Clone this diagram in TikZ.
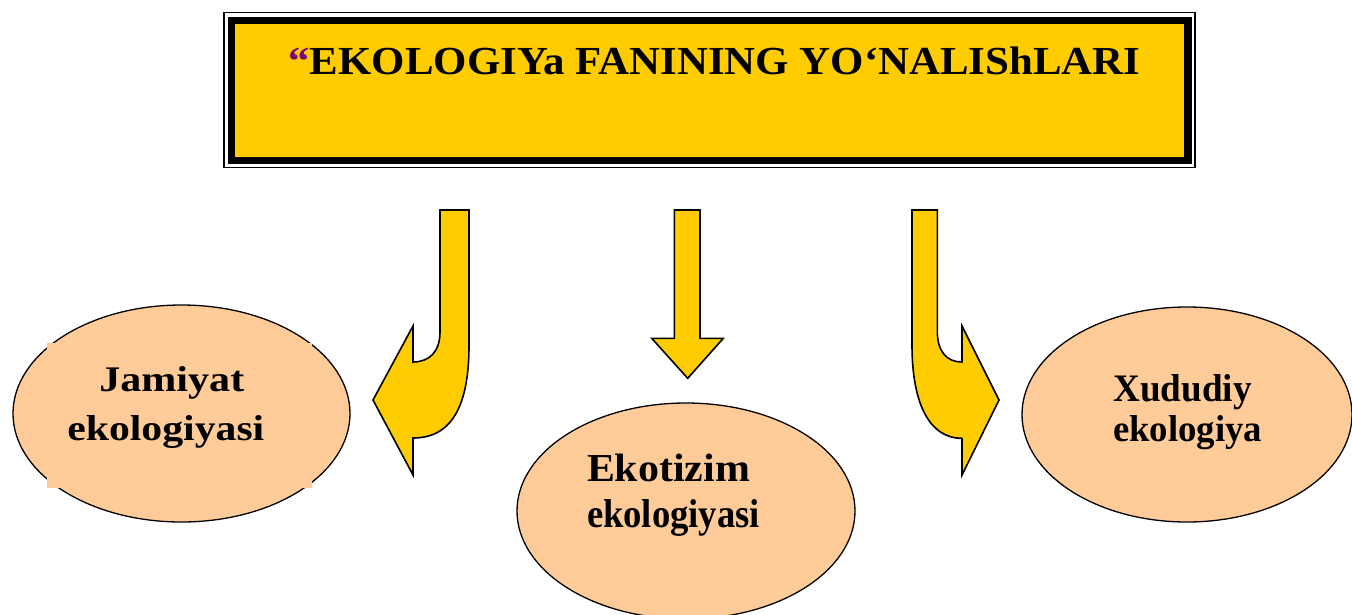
\documentclass[tikz,border=0pt]{standalone}
\usepackage{fontspec}
\setmainfont{Liberation Serif}
\usetikzlibrary{shapes.geometric}
\definecolor{gold}{HTML}{FFCC00}
\definecolor{peach}{HTML}{FFCC99}
\definecolor{plum}{HTML}{800080}
\begin{document}
\begin{tikzpicture}[x=1pt,y=-1pt,
  blockarrow/.style={draw=black,line width=1.6pt,fill=gold,line join=miter},
  topic/.style={ellipse,draw=black,line width=1.3pt,fill=peach,inner sep=0pt,outer sep=0pt},
  txt/.style={anchor=base west,inner sep=0pt,outer sep=0pt,font=\bfseries}]
\useasboundingbox (0,0) rectangle (1352,614);
\fill[white] (0,0) rectangle (1352,614);

% title frame: thin outer line, thick inner border, yellow panel
\draw[line width=1.4pt] (224,12.5) rectangle (1195,167.5);
\node[draw=black,line width=7.5pt,fill=gold,inner sep=0pt,outer sep=0pt,
      minimum width=956.7pt,minimum height=140.3pt] (title) at (709.65,90.45) {};
\node[txt] (titletext) at (288.3,74.3)
  {\resizebox{852pt}{27.6pt}{\textcolor{plum}{“}EKOLOGIYa FANINING YO‘NALIShLARI}};

% block arrows
\draw[blockarrow] (440,210) -- (469,210) -- (469,345)
  .. controls (469,402) and (454,438) .. (413,438) -- (413,475) -- (373,400)
  -- (413,326) -- (413,362) .. controls (429,362) and (440,352) .. (440,332) -- cycle;
\draw[blockarrow] (674.3,210) -- (700,210) -- (700,338.3) -- (723.3,338.3)
  -- (687.7,378.3) -- (651.7,338.3) -- (674.3,338.3) -- cycle;
\draw[blockarrow] (912,210) -- (937.3,210) -- (937.3,331)
  .. controls (937.3,352) and (947,362) .. (962,362) -- (962,326) -- (999,400)
  -- (962,475) -- (962,438.3) .. controls (929,438.3) and (912,403) .. (912,345) -- cycle;

% branch ellipses
\node[topic,minimum width=337pt,minimum height=217pt] (society) at (181.5,413.5) {};
\fill[peach] (47,343) rectangle (311.5,488);
\node[topic,minimum width=338pt,minimum height=216pt] (ecosystem) at (686,511) {};
\node[topic,minimum width=330pt,minimum height=215pt] (regional) at (1187,414.5) {};

% labels
\node[txt] (s1) at (99.3,391.7) {\resizebox{145pt}{25pt}{Jamiyat}};
\node[txt] (s2) at (67.3,440) {\resizebox{197pt}{25pt}{ekologiyasi}};
\node[txt] (e1) at (587,481.7) {\resizebox{163pt}{27.5pt}{Ekotizim}};
\node[txt] (e2) at (587,527) {\resizebox{173pt}{28pt}{ekologiyasi}};
\node[txt] (r1) at (1113.3,401) {\resizebox{138.4pt}{27pt}{Xududiy}};
\node[txt] (r2) at (1113,441) {\resizebox{149pt}{26pt}{ekologiya}};
\end{tikzpicture}
\end{document}
